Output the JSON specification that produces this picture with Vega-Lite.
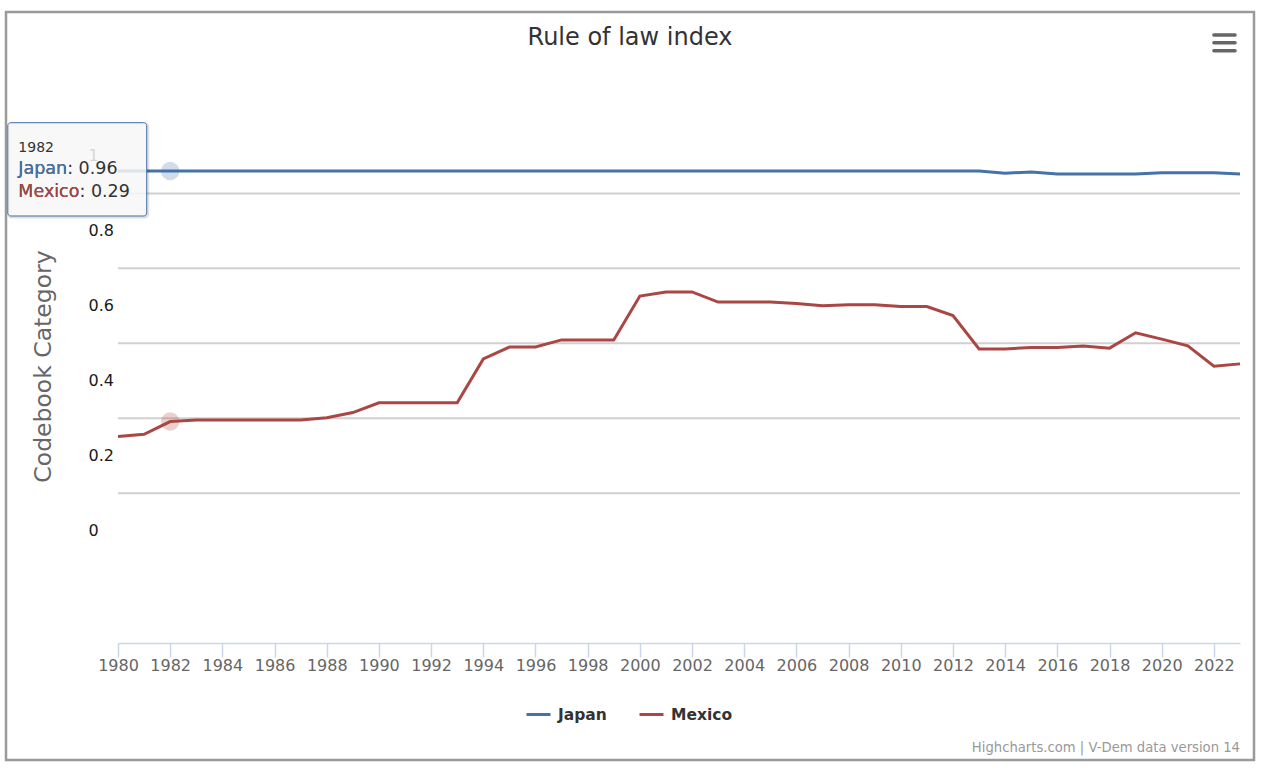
{
  "$schema": "https://vega.github.io/schema/vega-lite/v6.json",
  "width": 1248,
  "height": 748,
  "autosize": {"type": "none"},
  "padding": {"left": 6, "top": 12, "right": 12, "bottom": 18},
  "background": "white",
  "title": {
    "text": "Rule of law index",
    "font": "DejaVu Sans",
    "fontSize": 24,
    "fontWeight": "normal",
    "color": "#333333",
    "anchor": "middle",
    "baseline": "alphabetic",
    "offset": -57
  },
  "config": {
    "font": "DejaVu Sans",
    "view": {"stroke": "#9a9a9a", "strokeWidth": 2.5}
  },
  "datasets": {
    "series": [
      {"year": 1980, "country": "Japan", "v": 0.96},
      {"year": 1981, "country": "Japan", "v": 0.96},
      {"year": 1982, "country": "Japan", "v": 0.96},
      {"year": 1983, "country": "Japan", "v": 0.96},
      {"year": 1984, "country": "Japan", "v": 0.96},
      {"year": 1985, "country": "Japan", "v": 0.96},
      {"year": 1986, "country": "Japan", "v": 0.96},
      {"year": 1987, "country": "Japan", "v": 0.96},
      {"year": 1988, "country": "Japan", "v": 0.96},
      {"year": 1989, "country": "Japan", "v": 0.96},
      {"year": 1990, "country": "Japan", "v": 0.96},
      {"year": 1991, "country": "Japan", "v": 0.96},
      {"year": 1992, "country": "Japan", "v": 0.96},
      {"year": 1993, "country": "Japan", "v": 0.96},
      {"year": 1994, "country": "Japan", "v": 0.96},
      {"year": 1995, "country": "Japan", "v": 0.96},
      {"year": 1996, "country": "Japan", "v": 0.96},
      {"year": 1997, "country": "Japan", "v": 0.96},
      {"year": 1998, "country": "Japan", "v": 0.96},
      {"year": 1999, "country": "Japan", "v": 0.96},
      {"year": 2000, "country": "Japan", "v": 0.96},
      {"year": 2001, "country": "Japan", "v": 0.96},
      {"year": 2002, "country": "Japan", "v": 0.96},
      {"year": 2003, "country": "Japan", "v": 0.96},
      {"year": 2004, "country": "Japan", "v": 0.96},
      {"year": 2005, "country": "Japan", "v": 0.96},
      {"year": 2006, "country": "Japan", "v": 0.96},
      {"year": 2007, "country": "Japan", "v": 0.96},
      {"year": 2008, "country": "Japan", "v": 0.96},
      {"year": 2009, "country": "Japan", "v": 0.96},
      {"year": 2010, "country": "Japan", "v": 0.96},
      {"year": 2011, "country": "Japan", "v": 0.96},
      {"year": 2012, "country": "Japan", "v": 0.96},
      {"year": 2013, "country": "Japan", "v": 0.96},
      {"year": 2014, "country": "Japan", "v": 0.954},
      {"year": 2015, "country": "Japan", "v": 0.957},
      {"year": 2016, "country": "Japan", "v": 0.952},
      {"year": 2017, "country": "Japan", "v": 0.952},
      {"year": 2018, "country": "Japan", "v": 0.952},
      {"year": 2019, "country": "Japan", "v": 0.952},
      {"year": 2020, "country": "Japan", "v": 0.955},
      {"year": 2021, "country": "Japan", "v": 0.955},
      {"year": 2022, "country": "Japan", "v": 0.955},
      {"year": 2023, "country": "Japan", "v": 0.952},
      {"year": 1980, "country": "Mexico", "v": 0.251},
      {"year": 1981, "country": "Mexico", "v": 0.257},
      {"year": 1982, "country": "Mexico", "v": 0.291},
      {"year": 1983, "country": "Mexico", "v": 0.295},
      {"year": 1984, "country": "Mexico", "v": 0.295},
      {"year": 1985, "country": "Mexico", "v": 0.295},
      {"year": 1986, "country": "Mexico", "v": 0.295},
      {"year": 1987, "country": "Mexico", "v": 0.295},
      {"year": 1988, "country": "Mexico", "v": 0.301},
      {"year": 1989, "country": "Mexico", "v": 0.315},
      {"year": 1990, "country": "Mexico", "v": 0.341},
      {"year": 1991, "country": "Mexico", "v": 0.341},
      {"year": 1992, "country": "Mexico", "v": 0.341},
      {"year": 1993, "country": "Mexico", "v": 0.341},
      {"year": 1994, "country": "Mexico", "v": 0.458},
      {"year": 1995, "country": "Mexico", "v": 0.49},
      {"year": 1996, "country": "Mexico", "v": 0.49},
      {"year": 1997, "country": "Mexico", "v": 0.509},
      {"year": 1998, "country": "Mexico", "v": 0.509},
      {"year": 1999, "country": "Mexico", "v": 0.509},
      {"year": 2000, "country": "Mexico", "v": 0.626},
      {"year": 2001, "country": "Mexico", "v": 0.637},
      {"year": 2002, "country": "Mexico", "v": 0.637},
      {"year": 2003, "country": "Mexico", "v": 0.61},
      {"year": 2004, "country": "Mexico", "v": 0.61},
      {"year": 2005, "country": "Mexico", "v": 0.61},
      {"year": 2006, "country": "Mexico", "v": 0.606},
      {"year": 2007, "country": "Mexico", "v": 0.6},
      {"year": 2008, "country": "Mexico", "v": 0.603},
      {"year": 2009, "country": "Mexico", "v": 0.603},
      {"year": 2010, "country": "Mexico", "v": 0.598},
      {"year": 2011, "country": "Mexico", "v": 0.598},
      {"year": 2012, "country": "Mexico", "v": 0.574},
      {"year": 2013, "country": "Mexico", "v": 0.485},
      {"year": 2014, "country": "Mexico", "v": 0.485},
      {"year": 2015, "country": "Mexico", "v": 0.489},
      {"year": 2016, "country": "Mexico", "v": 0.489},
      {"year": 2017, "country": "Mexico", "v": 0.493},
      {"year": 2018, "country": "Mexico", "v": 0.487},
      {"year": 2019, "country": "Mexico", "v": 0.528},
      {"year": 2020, "country": "Mexico", "v": 0.511},
      {"year": 2021, "country": "Mexico", "v": 0.493},
      {"year": 2022, "country": "Mexico", "v": 0.439},
      {"year": 2023, "country": "Mexico", "v": 0.445}
    ],
    "grid": [{"v": 0.1}, {"v": 0.3}, {"v": 0.5}, {"v": 0.7}, {"v": 0.9}]
  },
  "layer": [
    {
      "data": {"name": "grid"},
      "mark": {"type": "rule", "stroke": "#d0d0d0", "strokeWidth": 2},
      "encoding": {
        "x": {"datum": 1980, "type": "quantitative"},
        "x2": {"datum": 2023},
        "y": {"field": "v", "type": "quantitative"}
      }
    },
    {
      "data": {"name": "series"},
      "mark": {"type": "line", "strokeWidth": 3},
      "encoding": {
        "x": {
          "field": "year",
          "type": "quantitative",
          "scale": {"domain": [1980, 2023], "range": [112, 1234], "nice": false, "zero": false},
          "axis": {
            "title": null,
            "orient": "bottom",
            "offset": -117,
            "values": [1980, 1982, 1984, 1986, 1988, 1990, 1992, 1994, 1996, 1998, 2000, 2002, 2004, 2006, 2008, 2010, 2012, 2014, 2016, 2018, 2020, 2022],
            "format": "d",
            "grid": false,
            "domainColor": "#ccd6eb",
            "domainWidth": 1.5,
            "tickColor": "#ccd6eb",
            "tickWidth": 1.5,
            "tickSize": 14,
            "labelPadding": 0,
            "labelFont": "DejaVu Sans",
            "labelFontSize": 16,
            "labelColor": "#666666",
            "labelFlush": false,
            "labelOverlap": false
          }
        },
        "y": {
          "field": "v",
          "type": "quantitative",
          "scale": {"domain": [-0.3, 1.2], "range": [631, 69], "nice": false, "zero": false},
          "axis": {
            "title": "Codebook Category",
            "orient": "left",
            "offset": -82,
            "values": [0, 0.2, 0.4, 0.6, 0.8, 1],
            "format": "~g",
            "grid": false,
            "domain": false,
            "ticks": false,
            "labelAlign": "left",
            "labelBaseline": "middle",
            "labelPadding": 0,
            "labelFont": "DejaVu Sans",
            "labelFontSize": 16,
            "labelColor": "#1a1a1a",
            "labelFlush": false,
            "labelOverlap": false,
            "titleFont": "DejaVu Sans",
            "titleFontSize": 23.5,
            "titleFontWeight": "normal",
            "titleColor": "#666666",
            "titleAngle": 270,
            "titleBaseline": "middle",
            "titleX": -45,
            "titleY": 354
          }
        },
        "color": {
          "field": "country",
          "type": "nominal",
          "scale": {"domain": ["Japan", "Mexico"], "range": ["#4572A7", "#AA4643"]},
          "legend": {
            "title": null,
            "orient": "none",
            "legendX": 519,
            "legendY": 689,
            "direction": "horizontal",
            "padding": 0,
            "symbolType": "stroke",
            "symbolStrokeWidth": 3,
            "symbolSize": 576,
            "labelFont": "DejaVu Sans",
            "labelFontSize": 15.5,
            "labelFontWeight": "bold",
            "labelColor": "#333333",
            "labelOffset": 6,
            "columnPadding": 26
          }
        }
      }
    },
    {
      "data": {"name": "series"},
      "transform": [{"filter": "datum.year === 1982"}],
      "mark": {"type": "point", "filled": true, "size": 340, "opacity": 0.25},
      "encoding": {
        "x": {"field": "year", "type": "quantitative"},
        "y": {"field": "v", "type": "quantitative"},
        "color": {"condition": {"test": "datum.country === 'Japan'", "value": "#4572A7"}, "value": "#AA4643"}
      }
    },
    {
      "data": {"values": [{}]},
      "mark": {"type": "text", "text": "Highcharts.com | V-Dem data version 14", "align": "right", "baseline": "middle", "fontSize": 13.2, "color": "#999999", "font": "DejaVu Sans"},
      "encoding": {
        "x": {"datum": 2023, "type": "quantitative"},
        "y": {"datum": -0.5802, "type": "quantitative"}
      }
    },
    {
      "data": {"values": [{}]},
      "mark": {"type": "rule", "stroke": "#666666", "strokeWidth": 3.5, "strokeCap": "round"},
      "encoding": {
        "x": {"datum": 2022.0, "type": "quantitative"},
        "x2": {"datum": 2022.81},
        "y": {"datum": 1.3228, "type": "quantitative"}
      }
    },
    {
      "data": {"values": [{}]},
      "mark": {"type": "rule", "stroke": "#666666", "strokeWidth": 3.5, "strokeCap": "round"},
      "encoding": {
        "x": {"datum": 2022.0, "type": "quantitative"},
        "x2": {"datum": 2022.81},
        "y": {"datum": 1.3022, "type": "quantitative"}
      }
    },
    {
      "data": {"values": [{}]},
      "mark": {"type": "rule", "stroke": "#666666", "strokeWidth": 3.5, "strokeCap": "round"},
      "encoding": {
        "x": {"datum": 2022.0, "type": "quantitative"},
        "x2": {"datum": 2022.81},
        "y": {"datum": 1.2809, "type": "quantitative"}
      }
    },
    {
      "data": {"values": [{}]},
      "mark": {"type": "rect", "fill": null, "stroke": "#000000", "strokeOpacity": 0.12, "strokeWidth": 3, "cornerRadius": 3},
      "encoding": {
        "x": {"datum": 1975.815, "type": "quantitative"},
        "x2": {"datum": 1981.138},
        "y": {"datum": 1.086, "type": "quantitative"},
        "y2": {"datum": 0.837}
      }
    },
    {
      "data": {"values": [{}]},
      "mark": {"type": "rect", "fill": "#f7f7f7", "fillOpacity": 0.85, "stroke": "#4572A7", "strokeWidth": 1, "cornerRadius": 3},
      "encoding": {
        "x": {"datum": 1975.777, "type": "quantitative"},
        "x2": {"datum": 1981.1},
        "y": {"datum": 1.0887, "type": "quantitative"},
        "y2": {"datum": 0.8397}
      }
    },
    {
      "data": {"values": [{}]},
      "mark": {"type": "text", "text": "1982", "align": "left", "baseline": "alphabetic", "fontSize": 14, "color": "#333333", "font": "DejaVu Sans"},
      "encoding": {
        "x": {"datum": 1976.18, "type": "quantitative"},
        "y": {"datum": 1.0113, "type": "quantitative"}
      }
    },
    {
      "data": {"values": [{}]},
      "mark": {"type": "text", "text": "Japan: 0.96", "align": "left", "baseline": "alphabetic", "fontSize": 17.5, "color": "#333333", "font": "DejaVu Sans"},
      "encoding": {
        "x": {"datum": 1976.18, "type": "quantitative"},
        "y": {"datum": 0.951, "type": "quantitative"}
      }
    },
    {
      "data": {"values": [{}]},
      "mark": {"type": "text", "text": "Japan", "align": "left", "baseline": "alphabetic", "fontSize": 17.5, "color": "#4572A7", "font": "DejaVu Sans"},
      "encoding": {
        "x": {"datum": 1976.18, "type": "quantitative"},
        "y": {"datum": 0.951, "type": "quantitative"}
      }
    },
    {
      "data": {"values": [{}]},
      "mark": {"type": "text", "text": "Mexico: 0.29", "align": "left", "baseline": "alphabetic", "fontSize": 17.5, "color": "#333333", "font": "DejaVu Sans"},
      "encoding": {
        "x": {"datum": 1976.18, "type": "quantitative"},
        "y": {"datum": 0.8912, "type": "quantitative"}
      }
    },
    {
      "data": {"values": [{}]},
      "mark": {"type": "text", "text": "Mexico", "align": "left", "baseline": "alphabetic", "fontSize": 17.5, "color": "#AA4643", "font": "DejaVu Sans"},
      "encoding": {
        "x": {"datum": 1976.18, "type": "quantitative"},
        "y": {"datum": 0.8912, "type": "quantitative"}
      }
    }
  ]
}
